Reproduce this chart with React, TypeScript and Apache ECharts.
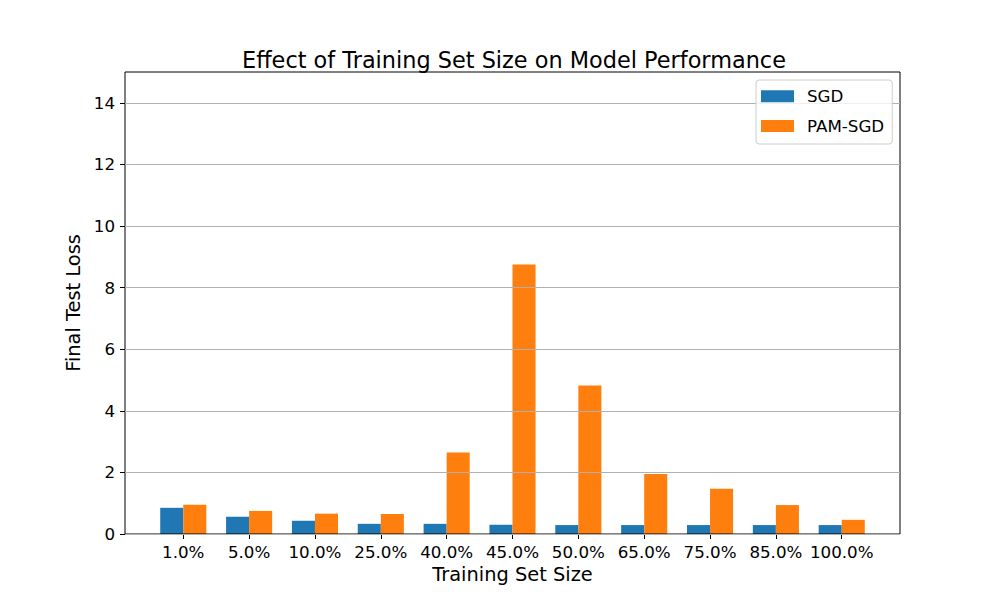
import React, { useEffect, useRef } from "react";
import * as echarts from "echarts";

const categories = ["1.0%", "5.0%", "10.0%", "25.0%", "40.0%", "45.0%", "50.0%", "65.0%", "75.0%", "85.0%", "100.0%"];
const sgdValues = [0.85, 0.56, 0.43, 0.33, 0.33, 0.30, 0.29, 0.29, 0.29, 0.29, 0.29];
const pamValues = [0.95, 0.75, 0.66, 0.65, 2.65, 8.75, 4.82, 1.95, 1.47, 0.94, 0.46];
const yTicks = [0, 2, 4, 6, 8, 10, 12, 14];

const FONT = "DejaVu Sans";

export default function App() {
  const ref = useRef<HTMLDivElement>(null);
  useEffect(() => {
    if (!ref.current) return;
    const chart = echarts.init(ref.current, null, { renderer: "svg" });
    const unit = 775 / 11.77;
    const catW = unit * 11;
    const catLeft = 125 + 0.885 * unit - unit / 2;
    const catRight = 1000 - catLeft - catW;
    chart.setOption({
      animation: false,
      backgroundColor: "#ffffff",
      title: {
        text: "Effect of Training Set Size on Model Performance",
        left: 509,
        top: 44,
        textAlign: "center",
        textStyle: { fontFamily: FONT, fontSize: 22.4, fontWeight: "normal", color: "#000" },
      },
      legend: {
        orient: "vertical",
        left: 756,
        top: 80,
        padding: [7.7, 8, 9.6, 5],
        itemWidth: 33,
        itemHeight: 12,
        itemGap: 12.7,
        icon: "rect",
        backgroundColor: "rgba(255,255,255,0.8)",
        borderColor: "#cccccc",
        borderWidth: 1,
        borderRadius: 3,
        z: 10,
        textStyle: { fontFamily: FONT, fontSize: 16.7, color: "#000", lineHeight: 14, padding: [0, 0, 0, 8] },
        data: ["SGD", "PAM-SGD"],
      },
      grid: [
        { left: 125, right: 100, top: 72, bottom: 66, show: true, borderColor: "#000", borderWidth: 1, backgroundColor: "transparent", z: 5 },
        { left: catLeft, right: catRight, top: 72, bottom: 66 },
      ],
      xAxis: [
        { type: "value", gridIndex: 0, min: 0, max: 1, show: false },
        {
          type: "category",
          gridIndex: 1,
          data: categories,
          axisLine: { show: false },
          axisTick: { show: true, alignWithLabel: true, interval: 0, length: 5, lineStyle: { color: "#000", width: 1 } },
          axisLabel: { fontFamily: FONT, fontSize: 16.7, color: "#000", margin: 9, interval: 0 },
          name: "Training Set Size",
          nameLocation: "middle",
          nameGap: 31,
          nameTextStyle: { fontFamily: FONT, fontSize: 19.4, color: "#000" },
        },
      ],
      yAxis: [
        {
          type: "value",
          gridIndex: 0,
          min: 0,
          max: 15,
          interval: 2,
          z: 5,
          axisLine: { show: false },
          axisTick: { show: true, length: 5, customValues: yTicks, lineStyle: { color: "#000", width: 1 } },
          axisLabel: { fontFamily: FONT, fontSize: 16.7, color: "#000", margin: 10, customValues: yTicks },
          splitLine: { show: true, lineStyle: { color: "#b0b0b0", width: 1 } },
          name: "Final Test Loss",
          nameLocation: "middle",
          nameGap: 38,
          nameTextStyle: { fontFamily: FONT, fontSize: 19.4, color: "#000" },
        },
        { type: "value", gridIndex: 1, min: 0, max: 15, show: false },
      ],
      series: [
        {
          name: "SGD",
          type: "bar",
          xAxisIndex: 1,
          yAxisIndex: 1,
          data: sgdValues,
          barWidth: 0.35 * unit,
          barGap: "0%",
          itemStyle: { color: "#1f77b4" },
        },
        {
          name: "PAM-SGD",
          type: "bar",
          xAxisIndex: 1,
          yAxisIndex: 1,
          data: pamValues,
          barWidth: 0.35 * unit,
          barGap: "0%",
          itemStyle: { color: "#ff7f0e" },
        },
      ],
    });
    return () => chart.dispose();
  }, []);
  return <div ref={ref} style={{ position: "fixed", left: 0, top: 0, width: 1000, height: 600 }} />;
}
